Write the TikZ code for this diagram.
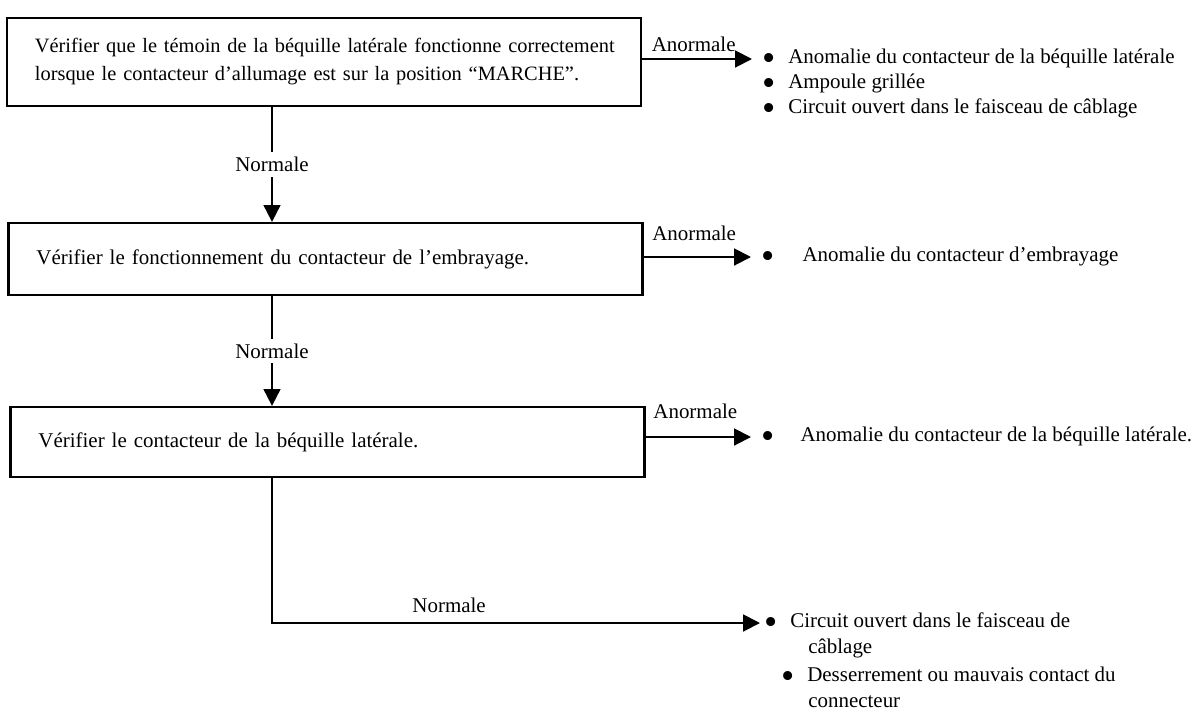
\documentclass[tikz,border=0pt]{standalone}
\usepackage{fontspec}
\setmainfont{Liberation Serif}
\usetikzlibrary{arrows.meta}

% bullet in front of each outcome, fixed width so the texts line up
\newcommand{\puce}[1][0.65cm]{\makebox[#1][l]{\raisebox{-0.33em}[0pt][0pt]{\scalebox{1.8}{\textbullet}}}}

\begin{document}
\begin{tikzpicture}[x=0.025cm, y=-0.025cm, font=\fontsize{14.9}{19.9}\selectfont,
    checkbox/.style={draw, line width=1.6pt, text width=14.45cm, inner xsep=0.7cm, align=left},
    fleche/.style={line width=1.4pt, -{Triangle[length=0.42cm, width=0.42cm]}},
    item/.style={anchor=west, inner sep=0pt, text height=1.6ex, text depth=0.3ex}]
    \useasboundingbox (0,0) rectangle (1201,717);

    % Draw check boxes
    \node[checkbox, minimum height=2.2cm, font=\fontsize{14.5}{19.9}\selectfont] (check1) at (324,62)
        {\mbox{Vérifier que le témoin de la béquille latérale fonctionne correctement}\\
         lorsque le contacteur d’allumage est sur la position “MARCHE”.};
    \node[checkbox, minimum height=1.8cm] (check2) at (325.5,259)
        {Vérifier le fonctionnement du contacteur de l’embrayage.};
    \node[checkbox, minimum height=1.75cm] (check3) at (327.5,442)
        {Vérifier le contacteur de la béquille latérale.};
    \coordinate (stem) at (272,0);

    % Draw outcomes
    \node[item] (res1a) at (762,59) {\puce Anomalie du contacteur de la béquille latérale};
    \node[item] (res1b) at (762,84) {\puce Ampoule grillée};
    \node[item] (res1c) at (762,109) {\puce Circuit ouvert dans le faisceau de câblage};
    \node[item] (res2) at (761,257) {\puce[0.9cm] Anomalie du contacteur d’embrayage};
    \node[item] (res3) at (761,437) {\puce[0.85cm] Anomalie du contacteur de la béquille latérale.};
    \node[item] (res4a) at (764,623) {\puce Circuit ouvert dans le faisceau de};
    \node[item] (res4b) at (808,649) {câblage};
    \node[item] (res4c) at (781,677) {\puce Desserrement ou mauvais contact du};
    \node[item] (res4d) at (808,703) {connecteur};

    % Draw arrows
    % normal: next check
    \draw[fleche] (check1.south -| stem) -- (check2.north -| stem) node[midway,fill=white] {Normale};
    \draw[fleche] (check2.south -| stem) -- (check3.north -| stem) node[midway,fill=white] {Normale};
    \draw[fleche, shorten >=0.1cm] (check3.south -| stem) |- (res4a.west) node[pos=0.68,above=0.125cm] {Normale};
    % abnormal: causes
    \draw[fleche, shorten >=0.25cm] (check1.east |- res1a.west) -- (res1a.west) node[pos=0.43,above=0.05cm] {Anormale};
    \draw[fleche, shorten >=0.25cm] (check2.east |- res2.west) -- (res2.west) node[pos=0.43,above=0.275cm] {Anormale};
    \draw[fleche, shorten >=0.25cm] (check3.east |- res3.west) -- (res3.west) node[pos=0.43,above=0.325cm] {Anormale};
\end{tikzpicture}
\end{document}
